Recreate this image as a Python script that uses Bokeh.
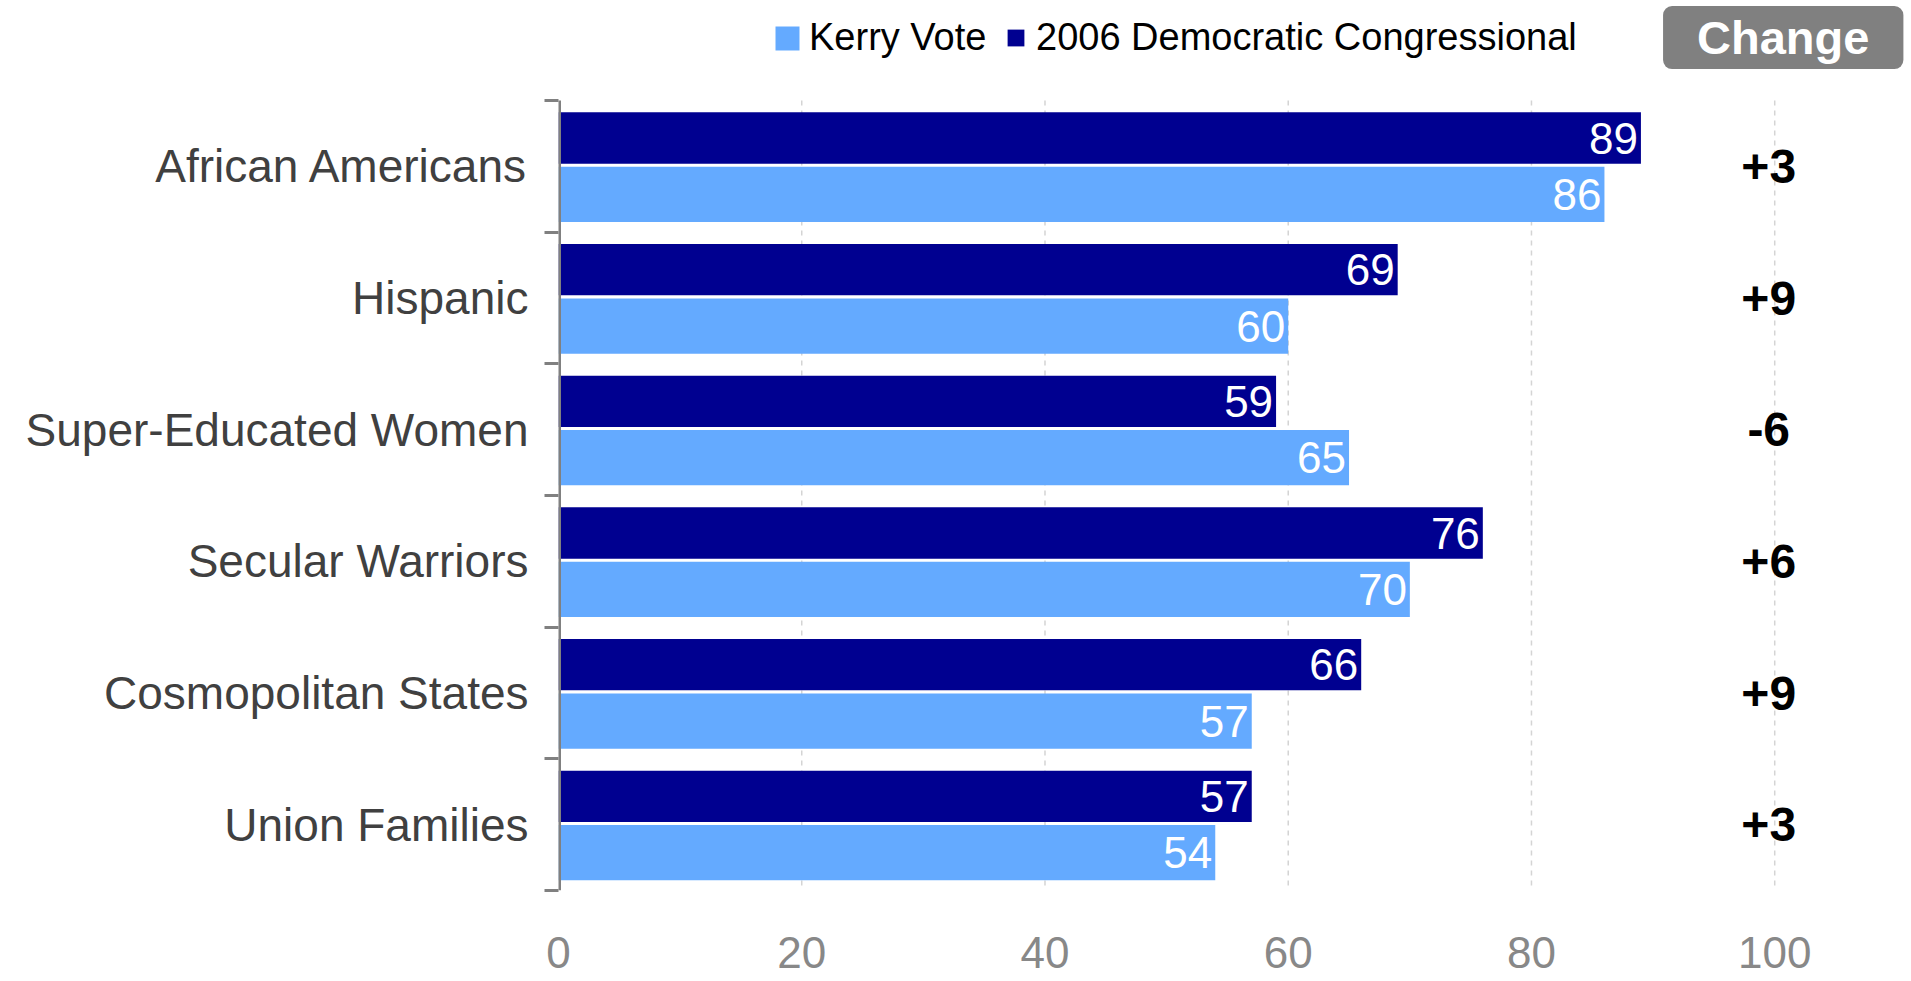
from bokeh.plotting import figure
from bokeh.models import Range1d, FixedTicker, Legend, LegendItem, Label, ColumnDataSource
from bokeh.core.properties import value
from bokeh.embed import file_html
from bokeh.resources import INLINE

categories = ["African Americans", "Hispanic", "Super-Educated Women",
              "Secular Warriors", "Cosmopolitan States", "Union Families"]
kerry_vote = [86, 60, 65, 70, 57, 54]
dem_2006 = [89, 69, 59, 76, 66, 57]
change_labels = ["+3", "+9", "-6", "+6", "+9", "+3"]
x_ticks = [0, 20, 40, 60, 80, 100]

FONT = "Liberation Sans"
DARK = "#000090"
LIGHT = "#64AAFF"
GRAY = "#808080"

n = len(categories)
centers = [i + 0.5 for i in range(n)]
dark_y = [i + 0.285 for i in range(n)]
light_y = [i + 0.713 for i in range(n)]

src = ColumnDataSource(dict(
    cat=categories, kerry=kerry_vote, dem=dem_2006,
    kerry_txt=[str(v) for v in kerry_vote], dem_txt=[str(v) for v in dem_2006],
    dark_y=dark_y, light_y=light_y, center=centers,
    change=change_labels, cx=[x_ticks[-1]] * n,
))

# frame: data area plus room above it for the legend and the "Change" header
p = figure(frame_width=1350, frame_height=890,
           min_border_left=558, min_border_right=2, min_border_top=0, min_border_bottom=40,
           x_range=Range1d(0, 111), y_range=Range1d(n, -0.7595),
           output_backend="svg", toolbar_location=None)
p.outline_line_color = None
p.background_fill_color = "white"
p.border_fill_color = "white"
p.xgrid.visible = False
p.ygrid.visible = False

# dashed vertical gridlines over the category area only
grid_x = x_ticks[1:]
p.segment(x0=grid_x, y0=[0] * len(grid_x), x1=grid_x, y1=[n] * len(grid_x),
          line_color="#D4D4D4", line_width=1.5, line_dash="5 5")

dark_r = p.hbar(y="dark_y", right="dem", left=0, height=0.39, source=src,
                fill_color=DARK, line_color=None)
light_r = p.hbar(y="light_y", right="kerry", left=0, height=0.42, source=src,
                 fill_color=LIGHT, line_color=None)

# vertical axis line over the category area
p.segment(x0=[0], y0=[0], x1=[0], y1=[n], line_color=GRAY, line_width=5)

# value labels inside bars
p.text(x="dem", y="dark_y", text="dem_txt", source=src, x_offset=-3,
       text_align="right", text_baseline="middle", text_color="white",
       text_font=value(FONT), text_font_size="44px")
p.text(x="kerry", y="light_y", text="kerry_txt", source=src, x_offset=-3,
       text_align="right", text_baseline="middle", text_color="white",
       text_font=value(FONT), text_font_size="44px")

# change values
p.text(x="cx", y="center", text="change", source=src, x_offset=-6,
       text_align="center", text_baseline="middle", text_color="black",
       text_font=value(FONT), text_font_size="48px", text_font_style="bold")

# x axis
p.xaxis.ticker = FixedTicker(ticks=x_ticks)
p.xaxis.axis_line_color = None
p.xaxis.major_tick_line_color = None
p.xaxis.minor_tick_line_color = None
p.xaxis.major_tick_out = 0
p.xaxis.major_tick_in = 0
p.xaxis.major_label_standoff = 46
p.xaxis.major_label_text_font = FONT
p.xaxis.major_label_text_font_size = "44px"
p.xaxis.major_label_text_color = "#888888"

# y axis: labels at band centres, boundary ticks as minor ticks
p.yaxis.ticker = FixedTicker(ticks=centers, minor_ticks=list(range(n + 1)))
p.yaxis.major_label_overrides = {c: lab for c, lab in zip(centers, categories)}
p.yaxis.axis_line_color = None
p.yaxis.major_tick_line_color = None
p.yaxis.major_tick_out = 0
p.yaxis.major_tick_in = 0
p.yaxis.minor_tick_out = 14
p.yaxis.minor_tick_in = 0
p.yaxis.minor_tick_line_color = GRAY
p.yaxis.minor_tick_line_width = 3
p.yaxis.major_label_standoff = 16
p.yaxis.major_label_text_font = FONT
p.yaxis.major_label_text_font_size = "46px"
p.yaxis.major_label_text_color = "#404040"

legend_style = dict(orientation="horizontal", padding=0, margin=0, spacing=0,
                    border_line_color=None, background_fill_alpha=0,
                    label_text_font=FONT, label_text_font_size="38px",
                    label_text_color="black")
legend_kerry = Legend(items=[LegendItem(label="Kerry Vote", renderers=[light_r])],
                      location=(214, 831), glyph_width=30, glyph_height=30,
                      label_standoff=7, **legend_style)
legend_dem = Legend(items=[LegendItem(label="2006 Democratic Congressional", renderers=[dark_r])],
                    location=(447, 831), glyph_width=21, glyph_height=21,
                    label_standoff=10, **legend_style)
p.add_layout(legend_kerry)
p.add_layout(legend_dem)

header = Label(x=100.7, y=-0.478, text="Change", text_align="center", text_baseline="middle",
               text_font=FONT, text_font_size="47px", text_font_style="bold", text_color="white",
               background_fill_color=GRAY, border_radius=9, padding=(34, 34, 5, 5))
p.add_layout(header)

open("out.html", "w").write(file_html(p, INLINE))
